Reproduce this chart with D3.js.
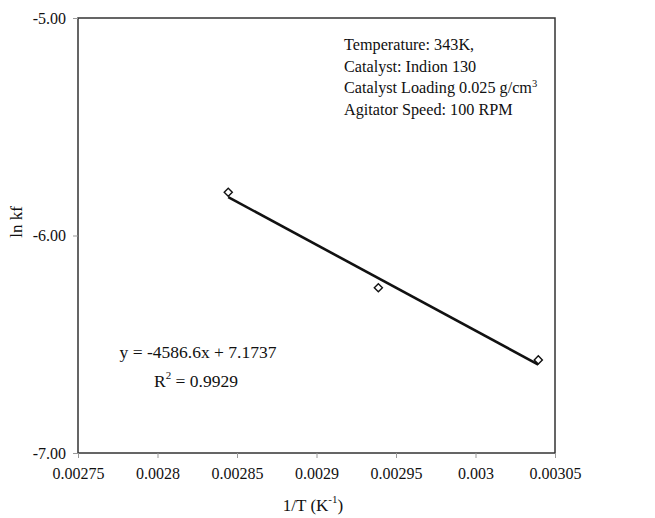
<!DOCTYPE html>
<html lang="en">
<head>
<meta charset="UTF-8">
<title>ln kf vs 1/T</title>
<script src="https://d3js.org/d3.v7.min.js"></script>
<style>
body { margin: 0; background: #fff; }
text { font-family: "Liberation Serif", "Times New Roman", serif; fill: #111; }
</style>
</head>
<body>
<svg width="655" height="518"></svg>
<script>
// data
const invT = [0.0028445, 0.0029389, 0.0030395];
const lnKf = [-5.801, -6.240, -6.572];
const xTicks = [0.00275, 0.0028, 0.00285, 0.0029, 0.00295, 0.003, 0.00305];
const yTicks = [-5, -6, -7];
const notes = ["Temperature: 343K,", "Catalyst: Indion 130", "Catalyst Loading 0.025 g/cm", "Agitator Speed: 100 RPM"];

var svg = d3.select("svg");
var margin = {left: 78, right: 100, top: 18, bottom: 65};
var width = 655 - margin.left - margin.right,
    height = 518 - margin.top - margin.bottom;

var x = d3.scaleLinear().domain([0.00275, 0.00305]).range([0, width]);
var y = d3.scaleLinear().domain([-7, -5]).range([height, 0]);

var g = svg.append("g").attr("transform", "translate(" + margin.left + "," + margin.top + ")");

// frame
g.append("rect")
  .attr("width", width).attr("height", height)
  .attr("fill", "none").attr("stroke", "#333").attr("stroke-width", 1.5);

var xAxis = g.append("g")
  .attr("transform", "translate(0," + height + ")")
  .call(d3.axisBottom(x).tickValues(xTicks).tickSize(5).tickPadding(10).tickFormat(function(d) { return "" + (+d.toFixed(5)); }));
var yAxis = g.append("g")
  .call(d3.axisLeft(y).tickValues(yTicks).tickSize(5).tickPadding(7).tickFormat(function(d) { return d.toFixed(2); }));

[xAxis, yAxis].forEach(function(a) {
  a.select(".domain").remove();
  a.selectAll("line").attr("stroke", "#999");
  a.selectAll("text").style("font-family", "Liberation Serif").style("font-size", "16px").attr("fill", "#111");
});

// least squares trendline over the points
var mx = d3.mean(invT), my = d3.mean(lnKf);
var sxy = d3.sum(invT, function(v, i) { return (v - mx) * (lnKf[i] - my); });
var sxx = d3.sum(invT, function(v) { return (v - mx) * (v - mx); });
var slope = sxy / sxx, icpt = my - slope * mx;
var xs = d3.extent(invT);

g.append("line")
  .attr("x1", x(xs[0])).attr("y1", y(slope * xs[0] + icpt))
  .attr("x2", x(xs[1])).attr("y2", y(slope * xs[1] + icpt))
  .attr("stroke", "#111").attr("stroke-width", 2.6);

g.selectAll(".pt")
  .data(invT)
  .enter().append("path")
  .attr("class", "pt")
  .attr("d", d3.symbol().type(d3.symbolDiamond2).size(42))
  .attr("transform", function(d, i) { return "translate(" + x(d) + "," + y(lnKf[i]) + ")"; })
  .attr("fill", "#fff").attr("stroke", "#111").attr("stroke-width", 1.4);

// notes box
var nt = svg.append("g").attr("transform", "translate(344,50)");
notes.forEach(function(s, i) {
  var t = nt.append("text").attr("y", i * 21.7).style("font-size", "16.2px").text(s);
  if (i == 2) t.append("tspan").attr("dy", -6).style("font-size", "10.5px").text("3");
});

// equation
svg.append("text").attr("x", 198).attr("y", 358).attr("text-anchor", "middle")
  .style("font-size", "17.5px").text("y = -4586.6x + 7.1737");
var r2 = svg.append("text").attr("x", 196).attr("y", 387).attr("text-anchor", "middle").style("font-size", "17.5px");
r2.append("tspan").text("R");
r2.append("tspan").attr("dy", -8).style("font-size", "11px").text("2");
r2.append("tspan").attr("dy", 8).text(" = 0.9929");

// axis titles
var xt = svg.append("text").attr("x", 313).attr("y", 511).attr("text-anchor", "middle").style("font-size", "17px");
xt.append("tspan").text("1/T (K");
xt.append("tspan").attr("dy", -8).style("font-size", "11px").text("-1");
xt.append("tspan").attr("dy", 8).text(")");

svg.append("text")
  .attr("transform", "translate(22,222) rotate(-90)")
  .attr("text-anchor", "middle").style("font-size", "17px").text("ln kf");
</script>
</body>
</html>
